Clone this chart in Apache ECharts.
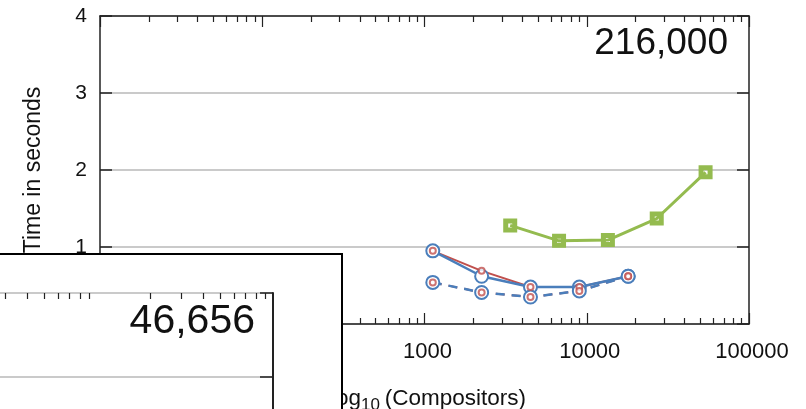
<!DOCTYPE html>
<html>
<head>
<meta charset="utf-8">
<script src="https://cdn.jsdelivr.net/npm/echarts@6/dist/echarts.min.js"></script>
<style>
html,body{margin:0;padding:0;background:#fff;}
#c{width:806px;height:409px;}
</style>
</head>
<body>
<div id="c"></div>
<script>
// ---- data ----
const compositorsGreen = [3375, 6750, 13500, 27000, 54000];
const timeGreen = [1.28, 1.08, 1.09, 1.37, 1.97];
const compositorsBlue = [1125, 2250, 4500, 9000, 18000];
const timeBlueSolid = [0.95, 0.62, 0.48, 0.48, 0.62];
const timeRedSolid = [0.95, 0.69, 0.48, 0.48, 0.62];
const timeBlueDashed = [0.54, 0.41, 0.35, 0.43, 0.62];
const timeRedDashed = [0.54, 0.41, 0.35, 0.43, 0.62];
const yTickValues = [0, 1, 2, 3, 4];
const xTickLabels = ['10', '100', '1000', '10000', '100000'];
const mainLabel = '216,000';
const insetLabel = '46,656';

const GREEN = '#94bb4f', BLUE = '#4a7ebb', RED = '#c0504d';
const AX = '#222', GRID = '#b8b8b8';
const FONT = 'Liberation Sans, Arial, sans-serif';
const SQUARE_FRAME = 'path://M0,0H14V14H0Z M5,5V9H9V5Z';

function pairs(xs, ys) { return xs.map((x, i) => [x, ys[i]]); }
// minor log tick positions (in decades) for decoration axes
const minorDecades = [];
for (let k = 1; k <= 4; k++) for (let m = 2; m <= 9; m++) minorDecades.push(Math.log10(m * Math.pow(10, k)));

const chart = echarts.init(document.getElementById('c'), null, {renderer: 'canvas'});

function logAxis(extra) {
  return Object.assign({
    type: 'log', logBase: 10, min: 10, max: 100000,
    axisLine: {show: true, lineStyle: {color: AX, width: 1.5}},
    axisTick: {show: true, inside: true, length: 11, lineStyle: {color: AX, width: 1.2}},
    axisLabel: {show: false},
    splitLine: {show: false}, minorTick: {show: false}
  }, extra);
}
function minorAxis(extra) {
  return Object.assign({
    type: 'value', min: 1, max: 5,
    axisLine: {show: false},
    axisTick: {show: true, inside: true, length: 6, customValues: minorDecades, lineStyle: {color: AX, width: 1.2}},
    axisLabel: {show: false},
    splitLine: {show: false}
  }, extra);
}

const option = {
  animation: false,
  backgroundColor: '#fff',
  textStyle: {fontFamily: FONT},
  grid: [
    {left: 100, right: 57, top: 16, bottom: 85, containLabel: false, outerBoundsMode: 'none'},
    {left: -431, top: 293, width: 704, height: 335, containLabel: false, outerBoundsMode: 'none', zlevel: 1, z: 10}
  ],
  xAxis: [
    logAxis({gridIndex: 0, position: 'bottom',
      axisLabel: {show: true, color: '#111', fontSize: 22, fontFamily: FONT, margin: 17, padding: [0, 0, 0, 6],
        formatter: v => { const i = Math.round(Math.log10(v)) - 1; return xTickLabels[i] || String(v); }},
      name: '{a|log}{b|10}{a|(Compositors)}', nameLocation: 'middle', nameGap: 60,
      nameTextStyle: {color: '#111', fontFamily: FONT, padding: [0, 0, 0, 8],
        rich: {a: {fontSize: 22.5, lineHeight: 30, fontFamily: FONT, color: '#111'},
               b: {fontSize: 17, lineHeight: 19, verticalAlign: 'bottom', padding: [0, 5, 0, 0], fontFamily: FONT, color: '#111'}}}
    }),
    minorAxis({gridIndex: 0, position: 'bottom'}),
    logAxis({gridIndex: 0, position: 'top'}),
    minorAxis({gridIndex: 0, position: 'top'}),
    logAxis({gridIndex: 1, position: 'top', zlevel: 1, z: 10, axisLine: {show: true, lineStyle: {color: AX, width: 2}}, axisTick: {show: true, inside: true, length: 12, lineStyle: {color: AX, width: 1.2}}}),
    minorAxis({gridIndex: 1, position: 'top', zlevel: 1, z: 10})
  ],
  yAxis: [
    {type: 'value', gridIndex: 0, position: 'left', min: 0, max: 4, interval: 1,
     axisLine: {show: true, lineStyle: {color: AX, width: 1.5}},
     axisTick: {show: true, inside: true, length: 12, lineStyle: {color: AX, width: 1.5}},
     axisLabel: {color: '#111', fontSize: 21, fontFamily: FONT, margin: 13,
       formatter: v => String(yTickValues[Math.round(v)])},
     splitLine: {show: true, lineStyle: {color: GRID, width: 1.5}},
     name: 'Time in seconds', nameLocation: 'middle', nameGap: 55,
     nameTextStyle: {color: '#111', fontSize: 23, fontFamily: FONT}},
    {type: 'value', gridIndex: 0, position: 'right', min: 0, max: 4, interval: 1,
     axisLine: {show: true, lineStyle: {color: AX, width: 1.5}},
     axisTick: {show: true, inside: true, length: 12, lineStyle: {color: AX, width: 1.5}},
     axisLabel: {show: false}, splitLine: {show: false}},
    {type: 'value', gridIndex: 1, position: 'right', min: 0, max: 4, interval: 1, zlevel: 1, z: 10,
     axisLine: {show: true, lineStyle: {color: AX, width: 2}},
     axisTick: {show: true, inside: true, length: 13, lineStyle: {color: AX, width: 1.5}},
     axisLabel: {show: false},
     splitLine: {show: true, lineStyle: {color: GRID, width: 1.5}}}
  ],
  graphic: {elements: [
    {type: 'text', x: 728, y: 43.5, z: 5,
     style: {text: mainLabel, fill: '#111', font: '37px ' + FONT, align: 'right', verticalAlign: 'middle'}},
    {type: 'rect', zlevel: 1, z: 1, shape: {x: -10, y: 254, width: 352, height: 200},
     style: {fill: '#fff', stroke: '#000', lineWidth: 2}},
    {type: 'text', zlevel: 1, z: 20, x: 255, y: 322,
     style: {text: insetLabel, fill: '#111', font: '41px ' + FONT, align: 'right', verticalAlign: 'middle'}}
  ]},
  series: [
    {name: 'Large', type: 'line', xAxisIndex: 0, yAxisIndex: 0, data: pairs(compositorsGreen, timeGreen),
     symbol: SQUARE_FRAME, symbolSize: 14, z: 3,
     itemStyle: {color: GREEN},
     lineStyle: {color: GREEN, width: 3}},
    {name: 'Red solid', type: 'line', xAxisIndex: 0, yAxisIndex: 0, data: pairs(compositorsBlue, timeRedSolid),
     showSymbol: false, symbol: 'none', z: 2,
     lineStyle: {color: RED, width: 2}},
    {name: 'Red dashed', type: 'line', xAxisIndex: 0, yAxisIndex: 0, data: pairs(compositorsBlue, timeRedDashed),
     showSymbol: false, symbol: 'none', z: 2,
     lineStyle: {color: RED, width: 2, type: [9, 7]}},
    {name: 'Blue solid', type: 'line', xAxisIndex: 0, yAxisIndex: 0, data: pairs(compositorsBlue, timeBlueSolid),
     symbol: 'emptyCircle', symbolSize: 13, z: 4,
     itemStyle: {color: BLUE, borderColor: BLUE, borderWidth: 3},
     lineStyle: {color: BLUE, width: 2.5}},
    {name: 'Blue dashed', type: 'line', xAxisIndex: 0, yAxisIndex: 0, data: pairs(compositorsBlue, timeBlueDashed),
     symbol: 'emptyCircle', symbolSize: 13, z: 4,
     itemStyle: {color: BLUE, borderColor: BLUE, borderWidth: 3},
     lineStyle: {color: BLUE, width: 2.5, type: [9, 7]}},
    {name: 'Red solid markers', type: 'scatter', xAxisIndex: 0, yAxisIndex: 0, data: pairs(compositorsBlue, timeRedSolid),
     symbol: 'emptyCircle', symbolSize: 6, z: 6, silent: true,
     itemStyle: {color: RED, borderColor: RED, borderWidth: 1.5}},
    {name: 'Red dashed markers', type: 'scatter', xAxisIndex: 0, yAxisIndex: 0, data: pairs(compositorsBlue, timeRedDashed),
     symbol: 'emptyCircle', symbolSize: 6, z: 6, silent: true,
     itemStyle: {color: RED, borderColor: RED, borderWidth: 1.5}}
  ]
};
chart.setOption(option);
</script>
</body>
</html>
